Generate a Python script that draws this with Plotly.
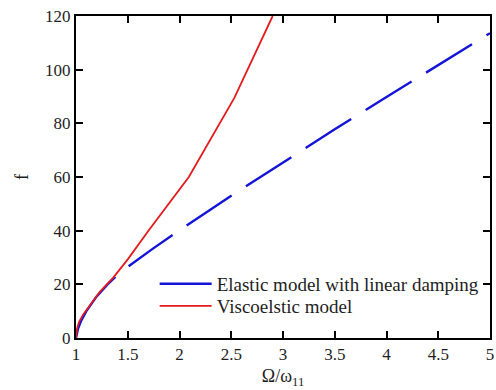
import plotly.graph_objects as go

# Frequency ratio vs. response amplitude for the two damping models
omega_elastic = [1.0, 1.02, 1.05, 1.1, 1.2, 1.3, 1.4, 1.5, 1.75, 2.0, 2.5, 3.0, 3.5, 4.0, 4.5, 5.0]
f_elastic = [0.0, 3.5, 6.5, 10.0, 15.5, 19.8, 23.5, 26.5, 33.5, 40.2, 53.0, 65.5, 77.8, 89.8, 101.7, 113.6]

omega_visco = [1.0, 1.01, 1.03, 1.07, 1.165, 1.23, 1.36, 1.5, 1.7, 2.09, 2.53, 2.9]
f_visco = [0.0, 3.5, 6.0, 8.8, 13.8, 17.2, 22.5, 29.3, 40.0, 60.0, 89.5, 120.0]

x_ticks = [1, 1.5, 2, 2.5, 3, 3.5, 4, 4.5, 5]
x_tick_labels = ["1", "1.5", "2", "2.5", "3", "3.5", "4", "4.5", "5"]
y_ticks = [0, 20, 40, 60, 80, 100, 120]

serif = "Liberation Serif"
ink = "#1e1e1e"

# long dashes; the first dash runs a bit longer before the regular rhythm starts
long_dash = "74px,17px" + ",54px,17px" * 8

fig = go.Figure()
fig.add_trace(go.Scatter(
    x=omega_elastic, y=f_elastic, mode="lines",
    name="Elastic model with linear damping",
    line=dict(color="#1414d8", width=2.4, dash=long_dash),
    legend="legend",
))
fig.add_trace(go.Scatter(
    x=omega_visco, y=f_visco, mode="lines",
    name="Viscoelstic model",
    line=dict(color="#e41a1c", width=1.8),
    legend="legend2",
))

axis_common = dict(
    showline=True, linecolor="black", linewidth=2,
    mirror="allticks", ticks="inside", ticklen=7, tickwidth=1.5,
    tickcolor="black", showgrid=False, zeroline=False,
    ticklabeloverflow="allow",
    tickfont=dict(family=serif, size=17, color=ink),
)

legend_common = dict(
    x=0.19, xanchor="left", yanchor="middle",
    bgcolor="rgba(0,0,0,0)", borderwidth=0,
    font=dict(family=serif, size=19, color=ink),
    itemwidth=52,
)

fig.update_layout(
    width=496, height=390,
    margin=dict(l=76, r=2, t=16, b=52),
    paper_bgcolor="white", plot_bgcolor="white",
    font=dict(family=serif, color=ink),
    showlegend=True,
    legend=dict(y=0.168, **legend_common),
    legend2=dict(y=0.099, **legend_common),
    xaxis=dict(
        range=[1, 5], tickvals=x_ticks, ticktext=x_tick_labels,
        title=dict(text="Ω/ω<sub>11</sub>", font=dict(family=serif, size=18, color=ink), standoff=6),
        **axis_common,
    ),
    yaxis=dict(
        range=[0, 120], tickvals=y_ticks,
        title=dict(text="f", font=dict(family=serif, size=18, color=ink), standoff=12),
        **axis_common,
    ),
)

fig.write_html("out.html")
